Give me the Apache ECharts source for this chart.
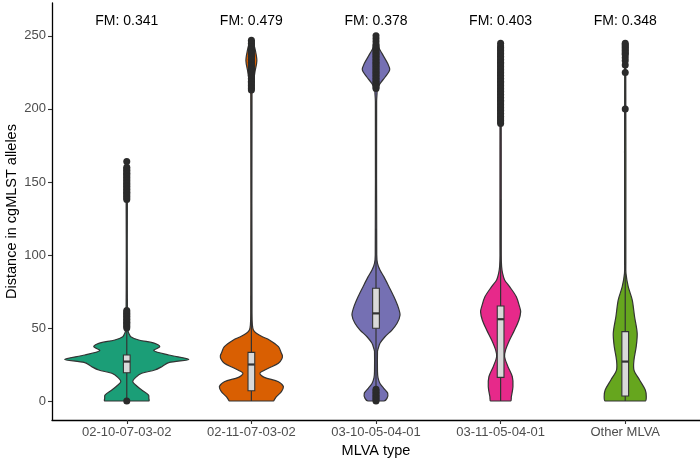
<!DOCTYPE html>
<html><head><meta charset="utf-8">
<script src="https://cdn.jsdelivr.net/npm/echarts@6/dist/echarts.min.js"></script>
<style>html,body{margin:0;padding:0;background:#fff}#c{width:700px;height:462px}</style>
</head><body><div id="c"></div>
<script>
const categories = ['02-10-07-03-02', '02-11-07-03-02', '03-10-05-04-01', '03-11-05-04-01', 'Other MLVA'];
const fmLabels = ['FM: 0.341', 'FM: 0.479', 'FM: 0.378', 'FM: 0.403', 'FM: 0.348'];
const yTickValues = [0, 50, 100, 150, 200, 250];
const fillColors = ['#1B9E77', '#D95F02', '#7570B3', '#E7298A', '#66A61E'];

// violin profiles: [distance, half-width in category units]
const violin1 = [[0,.177],[2,.177],[4.1,.175],[7.5,.120],[10.3,.080],[13.2,.048],[16.2,.072],[19,.120],[21.2,.225],[23.5,.281],[26.3,.337],[28.5,.498],[31.5,.337],[34.5,.217],[37.2,.265],[39.5,.225],[41.8,.096],[44,.032],[46.4,.016],[48,.010],[52,.006],[100,.004],[164,.004]];
const violin2 = [[0,.177],[1,.185],[3,.201],[6.4,.241],[9.8,.257],[13.2,.217],[16.2,.104],[19,.068],[22.4,.136],[25.8,.217],[29,.245],[31,.249],[32.7,.241],[37.2,.217],[41.8,.144],[44,.088],[46.4,.040],[48.6,.016],[52,.008],[60,.005],[210,.005],[215,.012],[225,.028],[233,.044],[240,.032],[245,.016],[247,.004]];
const violin3 = [[0,.064],[1.8,.088],[5.3,.094],[8.7,.062],[12,.032],[16,.016],[20,.012],[34,.012],[35.5,.016],[39.5,.032],[44,.072],[48.6,.128],[53.2,.169],[58.9,.193],[64.6,.177],[71.4,.144],[78.3,.104],[85,.064],[89.7,.032],[94.3,.012],[100,.006],[205,.005],[210,.008],[214,.012],[217.6,.035],[222,.075],[226.7,.110],[231,.094],[238,.048],[243.8,.012],[251,.004]];
const violin4 = [[0,.080],[2.9,.086],[9.8,.099],[16.6,.094],[23.5,.059],[30.3,.032],[35,.040],[41.8,.072],[48.6,.112],[55.5,.147],[61.2,.161],[64.6,.152],[71.4,.126],[78.3,.072],[82.9,.032],[87.4,.016],[92,.008],[100,.005],[245,.004]];
const violin5 = [[0,.161],[2.9,.169],[7.5,.161],[14.4,.115],[21.2,.070],[28,.070],[37.2,.088],[46.4,.096],[57.7,.075],[69.2,.056],[78.3,.024],[87.4,.006],[95,.005],[245,.004]];
const violinProfiles = [violin1, violin2, violin3, violin4, violin5];

const boxQ1 = [19.4, 7, 49.8, 16.2, 3.4];
const boxMedian = [27, 25, 60, 56, 27];
const boxQ3 = [31.5, 33.3, 77.2, 65, 47.5];
const whiskerLow = [1.5, 0, 9, 0, 0];
const whiskerHigh = [48, 72, 118, 138, 88];

const outliers1 = [0,50,51,52,53,54,55,56,57,58,59,60,61,62,138,139,140,141,142,143,144,145,146,147,148,149,150,151,152,153,154,155,156,157,158,159,160,164];
const outliers2 = [213,214,215,216,217,218,219,220,221,222,223,224,225,226,227,228,229,230,231,232,233,234,235,236,237,238,239,240,241,242,243,244,245,246,247];
const outliers3 = [0,1,2,3,4,5,6,7,8,214,215,216,217,218,219,220,221,222,223,224,225,226,227,228,229,230,231,232,233,234,235,236,237,238,239,240,241,242,243,244,246,248,250];
const outliers4 = [190,191,192,193,194,195,196,197,198,199,200,201,202,203,204,205,206,207,208,209,210,211,212,213,214,215,216,217,218,219,220,221,222,223,224,225,226,227,228,229,230,231,232,233,234,235,236,237,238,239,240,241,242,243,245];
const outliers5 = [200,225,230,233,235,237,238,239,240,241,242,243,244,245];
const outlierLists = [outliers1, outliers2, outliers3, outliers4, outliers5];

const FONT = '"Liberation Sans", Arial, Helvetica, sans-serif';
const catPos = categories.map((c, i) => i + 1);

const outlierData = [];
outlierLists.forEach((arr, i) => arr.forEach(v => outlierData.push([i + 1, v])));

const chart = echarts.init(document.getElementById('c'), null, {renderer: 'canvas'});

function renderViolin(params, api) {
  const i = params.dataIndex;
  const cx = i + 1;
  const prof = violinProfiles[i];
  const right = [], left = [];
  prof.forEach(([v, hw]) => {
    right.push(api.coord([cx + hw, v]));
    left.push(api.coord([cx - hw, v]));
  });
  const pts = right.concat(left.reverse());
  const p0 = pts[0].slice();
  return {
    type: 'polygon',
    shape: {points: pts, smooth: 0.3, smoothConstraint: [p0, p0.slice()]},
    style: {fill: fillColors[i], stroke: '#333333', lineWidth: 1.2}
  };
}

function renderBox(params, api) {
  const i = params.dataIndex;
  const cx = i + 1;
  const bw = 0.027;
  const pLo = api.coord([cx, whiskerLow[i]]);
  const pHi = api.coord([cx, whiskerHigh[i]]);
  const q1 = api.coord([cx - bw, boxQ1[i]]);
  const q3 = api.coord([cx + bw, boxQ3[i]]);
  const mL = api.coord([cx - bw, boxMedian[i]]);
  const mR = api.coord([cx + bw, boxMedian[i]]);
  const qq1 = api.coord([cx, boxQ1[i]]);
  const qq3 = api.coord([cx, boxQ3[i]]);
  return {
    type: 'group',
    children: [
      {type: 'line', shape: {x1: pLo[0], y1: pLo[1], x2: qq1[0], y2: qq1[1]}, style: {stroke: '#333333', lineWidth: 1.2}},
      {type: 'line', shape: {x1: qq3[0], y1: qq3[1], x2: pHi[0], y2: pHi[1]}, style: {stroke: '#333333', lineWidth: 1.2}},
      {type: 'rect', shape: {x: q1[0], y: q3[1], width: q3[0] - q1[0], height: q1[1] - q3[1]}, style: {fill: '#D9D9D9', stroke: '#333333', lineWidth: 1.1}},
      {type: 'line', shape: {x1: mL[0], y1: mL[1], x2: mR[0], y2: mR[1]}, style: {stroke: '#333333', lineWidth: 2.2}}
    ]
  };
}

function renderLabel(params, api) {
  const i = params.dataIndex;
  const p = api.coord([i + 1, 260]);
  return {
    type: 'text',
    x: p[0], y: p[1],
    style: {text: fmLabels[i], fill: '#000', font: '14px ' + FONT, textAlign: 'center', textVerticalAlign: 'middle'}
  };
}

const itemData = catPos.map(c => [c, 0]);

const option = {
  animation: false,
  backgroundColor: '#ffffff',
  grid: {left: 52, right: 0, top: 3, bottom: 42, containLabel: false, outerBoundsMode: 'none'},
  xAxis: {
    type: 'value', min: 0.4, max: 5.6,
    axisLine: {show: true, onZero: false, lineStyle: {color: '#000', width: 1.3}},
    axisTick: {show: true, customValues: catPos, length: 4, lineStyle: {color: '#333', width: 1.1}},
    axisLabel: {customValues: catPos, formatter: v => categories[Math.round(v) - 1], color: '#4d4d4d', fontSize: 13, fontFamily: FONT, margin: 6},
    splitLine: {show: false},
    name: 'MLVA type', nameLocation: 'middle', nameGap: 23,
    nameTextStyle: {color: '#000', fontSize: 14.5, fontFamily: FONT}
  },
  yAxis: {
    type: 'value', min: -13, max: 272.5,
    axisLine: {show: true, onZero: false, lineStyle: {color: '#000', width: 1.3}},
    axisTick: {show: true, customValues: yTickValues, length: 4, lineStyle: {color: '#333', width: 1.1}},
    axisLabel: {customValues: yTickValues, color: '#4d4d4d', fontSize: 13, fontFamily: FONT, margin: 6},
    splitLine: {show: false},
    name: 'Distance in cgMLST alleles', nameLocation: 'middle', nameGap: 33, nameRotate: 90,
    nameMoveOverlap: false,
    nameTextStyle: {color: '#000', fontSize: 14.5, fontFamily: FONT}
  },
  series: [
    {type: 'custom', renderItem: renderViolin, data: itemData, encode: {x: 0, y: 1}, z: 2, silent: true, clip: false},
    {type: 'custom', renderItem: renderBox, data: itemData, encode: {x: 0, y: 1}, z: 3, silent: true},
    {type: 'scatter', data: outlierData, symbol: 'circle', symbolSize: 7, itemStyle: {color: '#2b2b2b', opacity: 1}, z: 4, silent: true},
    {type: 'custom', renderItem: renderLabel, data: itemData, encode: {x: 0, y: 1}, z: 5, silent: true, clip: false}
  ]
};
chart.setOption(option);
</script>
</body></html>
